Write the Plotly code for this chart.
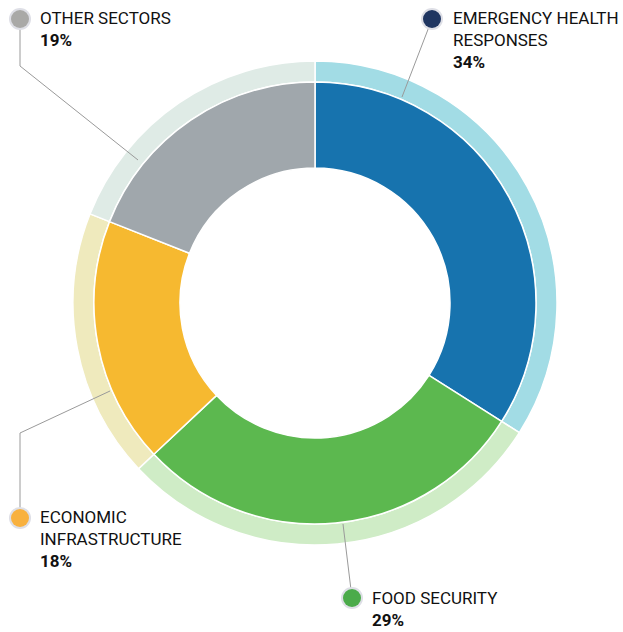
import plotly.graph_objects as go

W, H = 623, 632

categories = ["EMERGENCY HEALTH RESPONSES", "FOOD SECURITY", "ECONOMIC INFRASTRUCTURE", "OTHER SECTORS"]
values = [34, 29, 18, 19]
pct_labels = ["34%", "29%", "18%", "19%"]
label_lines = [["EMERGENCY HEALTH", "RESPONSES"], ["FOOD SECURITY"], ["ECONOMIC", "INFRASTRUCTURE"], ["OTHER SECTORS"]]

inner_colors = ["#1773ae", "#5cb84f", "#f6b930", "#a0a7ac"]
outer_colors = ["#a2dce5", "#cfecc6", "#efeabd", "#dfebe6"]
dot_colors = ["#1f3661", "#4bab4a", "#f8b13f", "#a9a9a7"]

# layout geometry (pixels)
CX, CY = 315, 303
R_OUT, R_MID, R_HOLE = 242, 221, 135


def px(x):
    return x / W


def py(y):
    return 1 - y / H


def dom(r):
    return dict(x=[px(CX - r), px(CX + r)], y=[py(CY + r), py(CY - r)])


fig = go.Figure()
fig.add_trace(go.Pie(values=values, labels=categories, sort=False, direction="clockwise", rotation=0,
                     hole=R_MID / R_OUT, domain=dom(R_OUT), textinfo="none", hoverinfo="skip",
                     marker=dict(colors=outer_colors, line=dict(color="white", width=1.5)), showlegend=False))
fig.add_trace(go.Pie(values=values, labels=categories, sort=False, direction="clockwise", rotation=0,
                     hole=R_HOLE / R_MID, domain=dom(R_MID), textinfo="none", hoverinfo="label+percent",
                     marker=dict(colors=inner_colors, line=dict(color="white", width=1.5)), showlegend=False))

FONT = "Roboto, Arial, sans-serif"

# label placement: (dot center, text left, text top, leader polyline)
placements = [
    ((432, 19), (451, 6), [(432, 19), (402, 97)]),
    ((352, 598), (370, 586), [(352, 598), (343, 524)]),
    ((20, 518), (38, 505), [(20, 518), (20, 433), (110, 391)]),
    ((20, 19), (38, 6), [(20, 19), (20, 66), (138, 160)]),
]

shapes = []
annotations = []
for i, (dot, tpos, poly) in enumerate(placements):
    path = "M " + " L ".join(f"{px(x)},{py(y)}" for x, y in poly)
    shapes.append(dict(type="path", xref="paper", yref="paper", path=path,
                       line=dict(color="#9a9a9a", width=1)))
for i, (dot, tpos, poly) in enumerate(placements):
    dx, dy = dot
    shapes.append(dict(type="circle", xref="paper", yref="paper",
                       x0=px(dx - 11), x1=px(dx + 11), y0=py(dy + 11), y1=py(dy - 11),
                       fillcolor="#dedfe6", line=dict(width=0)))
    shapes.append(dict(type="circle", xref="paper", yref="paper",
                       x0=px(dx - 9), x1=px(dx + 9), y0=py(dy + 9), y1=py(dy - 9),
                       fillcolor=dot_colors[i], line=dict(width=0)))
    text = "<br>".join(label_lines[i]) + "<br><b>" + pct_labels[i] + "</b>"
    annotations.append(dict(xref="paper", yref="paper", x=px(tpos[0]), y=py(tpos[1]),
                            xanchor="left", yanchor="top", align="left", showarrow=False,
                            text=text, font=dict(family=FONT, size=17, color="#111111")))

fig.update_layout(width=W, height=H, margin=dict(l=0, r=0, t=0, b=0),
                  paper_bgcolor="white", plot_bgcolor="white",
                  shapes=shapes, annotations=annotations)

fig.write_html("out.html")
